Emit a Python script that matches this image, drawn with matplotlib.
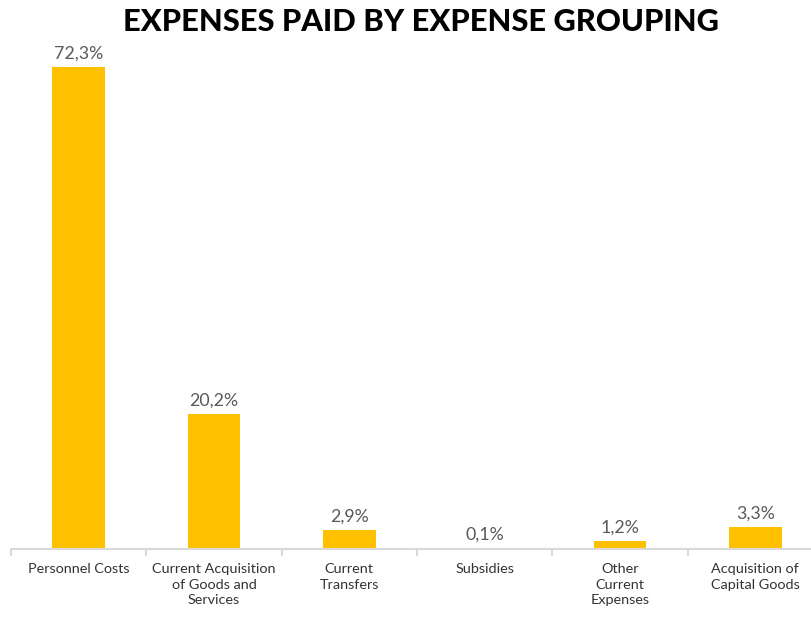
import matplotlib
matplotlib.use("Agg")
import matplotlib.pyplot as plt
from matplotlib.ticker import FixedLocator

categories = ["Personnel Costs", "Current Acquisition\nof Goods and\nServices", "Current\nTransfers",
              "Subsidies", "Other\nCurrent\nExpenses", "Acquisition of\nCapital Goods"]
values = [72.3, 20.2, 2.9, 0.1, 1.2, 3.3]
value_labels = ["72,3%", "20,2%", "2,9%", "0,1%", "1,2%", "3,3%"]
title = "EXPENSES PAID BY EXPENSE GROUPING"

plt.rcParams['font.family'] = ['Lato', 'DejaVu Sans']

fig = plt.figure(figsize=(8.12, 6.21), dpi=100)
left = 11 / 812
width = 801 / 812
bottom = (621 - 549) / 621
height = 80 * 6.667 / 621
ax = fig.add_axes([left, bottom, width, height])

x = list(range(len(values)))
ax.bar(x, values, width=0.39, color="#FFC000", zorder=2)
for xi, v, lab in zip(x, values, value_labels):
    ax.text(xi, v + 0.8, lab, ha="center", va="bottom", fontsize=12.8, color="#595959")

ax.set_xlim(-0.5, -0.5 + 801 / 135.33)
ax.set_ylim(0, 80)
ax.set_yticks([])
for s in ["top", "right", "left"]:
    ax.spines[s].set_visible(False)
ax.spines["bottom"].set_color("#d9d9d9")
ax.spines["bottom"].set_linewidth(1.5)

ax.set_xticks(x)
ax.set_xticklabels(categories, fontsize=10.4, color="#333333", linespacing=1.38, va="top")
ax.tick_params(axis="x", which="major", length=0, pad=10)
ax.xaxis.set_minor_locator(FixedLocator([i - 0.5 for i in range(len(values) + 1)]))
ax.tick_params(axis="x", which="minor", length=5, width=1.5, color="#d9d9d9")

fig.text(421 / 812, 1 - 22 / 621, title, ha="center", va="center", fontsize=22.2, fontweight="black", color="#000000")

fig.savefig("out.png", dpi=100)
